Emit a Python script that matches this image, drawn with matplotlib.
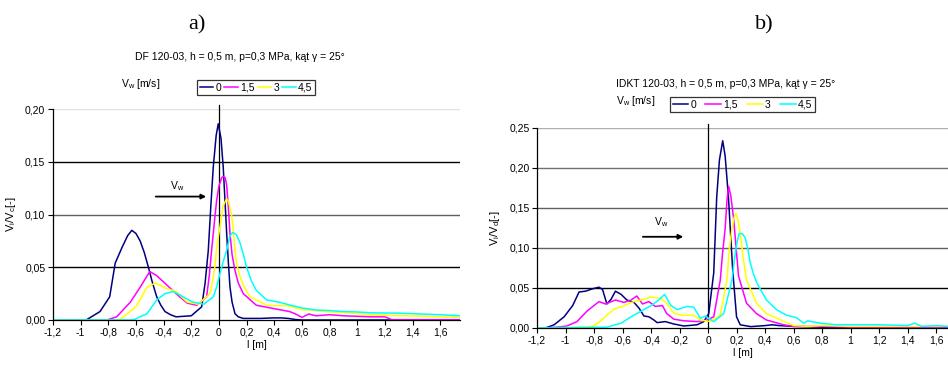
import matplotlib
matplotlib.use("Agg")
import matplotlib.pyplot as plt

plt.rcParams['font.family'] = ['Liberation Sans', 'DejaVu Sans']
plt.rcParams['mathtext.fontset'] = 'custom'
plt.rcParams['mathtext.rm'] = 'Liberation Sans'
plt.rcParams['mathtext.it'] = 'Liberation Sans'

series_labels = ['0', '1,5', '3', '4,5']
colors = ['#000080', '#ff00ff', '#ffff00', '#00ffff']

# ---- a) DF 120-03
a_x0 = [-1.2, -0.96, -0.86, -0.79, -0.75, -0.70, -0.66, -0.63, -0.60, -0.57, -0.54, -0.51, -0.48,
        -0.45, -0.42, -0.39, -0.35, -0.31, -0.20, -0.125, -0.10, -0.077, -0.06, -0.041, -0.02, -0.005,
        0.015, 0.031, 0.045, 0.056, 0.068, 0.08, 0.095, 0.116, 0.14, 0.176, 0.3, 0.4, 0.45, 0.5, 0.55,
        0.6, 1.0, 1.75]
a_y0 = [0, 0, 0.008, 0.022, 0.054, 0.069, 0.080, 0.085, 0.082, 0.075, 0.064, 0.050, 0.035,
        0.022, 0.014, 0.008, 0.005, 0.003, 0.004, 0.0125, 0.035, 0.066, 0.105, 0.145, 0.175, 0.186,
        0.172, 0.145, 0.11, 0.082, 0.055, 0.031, 0.017, 0.006, 0.003, 0.0015, 0.0015, 0.002, 0.002,
        0.0015, 0.0005, 0, 0, 0]
a_x1 = [-1.2, -0.81, -0.74, -0.64, -0.57, -0.50, -0.45, -0.40, -0.31, -0.23, -0.16, -0.089, -0.07,
        -0.053, -0.035, -0.017, 0.0, 0.02, 0.031, 0.045, 0.056, 0.068, 0.08, 0.095, 0.116, 0.14, 0.176,
        0.27, 0.39, 0.51, 0.55, 0.6, 0.65, 0.7, 0.8, 0.9, 1.0, 1.1, 1.2, 1.25, 1.75]
a_y1 = [0, 0, 0.003, 0.017, 0.031, 0.046, 0.042, 0.036, 0.025, 0.016, 0.014, 0.022, 0.042,
        0.066, 0.09, 0.113, 0.127, 0.135, 0.136, 0.135, 0.128, 0.107, 0.082, 0.062, 0.047, 0.035, 0.025,
        0.014, 0.011, 0.008, 0.006, 0.0025, 0.0057, 0.004, 0.005, 0.004, 0.0035, 0.003, 0.003, 0.0003,
        0.0003]
a_x2 = [-1.2, -0.72, -0.60, -0.52, -0.46, -0.38, -0.31, -0.23, -0.15, -0.065, -0.045, -0.03, -0.015,
        0.007, 0.03, 0.056, 0.07, 0.092, 0.105, 0.116, 0.13, 0.152, 0.18, 0.224, 0.345, 0.4, 0.5, 0.6,
        0.7, 0.8, 0.9, 1.0, 1.1, 1.2, 1.4, 1.6, 1.75]
a_y2 = [0, 0, 0.0125, 0.031, 0.035, 0.030, 0.027, 0.017, 0.015, 0.025, 0.037, 0.05, 0.07,
        0.088, 0.108, 0.115, 0.112, 0.099, 0.083, 0.066, 0.052, 0.041, 0.032, 0.022, 0.014, 0.0136,
        0.0136, 0.0098, 0.009, 0.0076, 0.007, 0.006, 0.005, 0.0044, 0.0038, 0.003, 0.0025]
a_x3 = [-1.2, -0.62, -0.52, -0.45, -0.39, -0.33, -0.26, -0.19, -0.11, -0.04, -0.015, 0.007, 0.03,
        0.056, 0.08, 0.10, 0.125, 0.15, 0.175, 0.20, 0.235, 0.27, 0.345, 0.44, 0.5, 0.6, 0.7, 0.8, 0.9,
        1.0, 1.1, 1.2, 1.3, 1.4, 1.5, 1.6, 1.75]
a_y3 = [0, 0, 0.006, 0.019, 0.025, 0.027, 0.022, 0.017, 0.015, 0.022, 0.032, 0.044, 0.055,
        0.066, 0.08, 0.083, 0.081, 0.074, 0.063, 0.050, 0.037, 0.028, 0.019, 0.0168, 0.0146, 0.0114,
        0.0095, 0.0089, 0.008, 0.0076, 0.0068, 0.0066, 0.0065, 0.006, 0.0055, 0.005, 0.004]

# ---- b) IDKT 120-03
b_x0 = [-1.2, -1.14, -1.08, -1.01, -0.95, -0.905, -0.86, -0.81, -0.765, -0.74, -0.71, -0.68, -0.65,
        -0.61, -0.57, -0.52, -0.485, -0.45, -0.415, -0.38, -0.357, -0.30, -0.24, -0.17, -0.077, -0.03,
        0.005, 0.04, 0.061, 0.08, 0.103, 0.12, 0.143, 0.173, 0.20, 0.226, 0.30, 0.4, 0.45, 0.5, 0.6,
        0.8, 1.2, 1.68]
b_y0 = [0, 0, 0.004, 0.014, 0.028, 0.045, 0.046, 0.049, 0.051, 0.048, 0.030, 0.036, 0.046,
        0.042, 0.035, 0.032, 0.025, 0.015, 0.014, 0.010, 0.0067, 0.008, 0.005, 0.0025, 0.004, 0.008,
        0.018, 0.069, 0.164, 0.21, 0.234, 0.215, 0.164, 0.0725, 0.014, 0.004, 0.0017, 0.003, 0.004,
        0.003, 0.002, 0.001, 0.001, 0.001]
b_x1 = [-1.2, -1.06, -0.99, -0.92, -0.85, -0.765, -0.72, -0.65, -0.59, -0.54, -0.50, -0.46, -0.415,
        -0.37, -0.32, -0.29, -0.24, -0.17, -0.077, -0.007, 0.04, 0.086, 0.10, 0.12, 0.133, 0.145, 0.16,
        0.18, 0.214, 0.27, 0.34, 0.41, 0.53, 0.6, 0.8, 1.0, 1.2, 1.68]
b_y1 = [0, 0.001, 0.0025, 0.008, 0.021, 0.033, 0.030, 0.035, 0.032, 0.035, 0.040, 0.030, 0.033,
        0.027, 0.028, 0.018, 0.011, 0.009, 0.008, 0.010, 0.014, 0.060, 0.09, 0.124, 0.16, 0.177, 0.165,
        0.136, 0.065, 0.031, 0.018, 0.010, 0.004, 0.002, 0.002, 0.001, 0.001, 0.001]
b_x2 = [-1.2, -0.87, -0.81, -0.765, -0.71, -0.66, -0.60, -0.54, -0.47, -0.40, -0.33, -0.29, -0.24,
        -0.18, -0.10, -0.054, 0.016, 0.086, 0.133, 0.15, 0.168, 0.183, 0.196, 0.21, 0.226, 0.245, 0.27,
        0.34, 0.41, 0.51, 0.60, 0.7, 0.8, 1.0, 1.2, 1.68]
b_y2 = [0, 0.001, 0.002, 0.007, 0.016, 0.0235, 0.027, 0.032, 0.035, 0.0387, 0.037, 0.031, 0.0185,
        0.016, 0.016, 0.010, 0.008, 0.016, 0.060, 0.10, 0.124, 0.138, 0.143, 0.135, 0.119, 0.09, 0.060,
        0.031, 0.018, 0.010, 0.003, 0.002, 0.003, 0.002, 0.002, 0.002]
b_x3 = [-1.2, -0.71, -0.61, -0.54, -0.47, -0.40, -0.345, -0.305, -0.26, -0.217, -0.147, -0.10, -0.054,
        -0.019, 0.04, 0.11, 0.168, 0.185, 0.203, 0.219, 0.24, 0.26, 0.28, 0.296, 0.32, 0.343, 0.41, 0.48,
        0.55, 0.62, 0.67, 0.70, 0.785, 0.9, 1.0, 1.2, 1.4, 1.45, 1.5, 1.6, 1.68]
b_y3 = [0, 0.001, 0.006, 0.014, 0.021, 0.028, 0.035, 0.042, 0.028, 0.023, 0.027, 0.026, 0.012,
        0.015, 0.008, 0.018, 0.060, 0.085, 0.107, 0.118, 0.118, 0.113, 0.098, 0.0815, 0.067, 0.056,
        0.035, 0.023, 0.016, 0.013, 0.006, 0.009, 0.006, 0.004, 0.004, 0.004, 0.003, 0.006, 0.002,
        0.003, 0.002]

x_ticks = [-1.2, -1, -0.8, -0.6, -0.4, -0.2, 0, 0.2, 0.4, 0.6, 0.8, 1, 1.2, 1.4, 1.6]
x_ticklabels = ['-1,2', '-1', '-0,8', '-0,6', '-0,4', '-0,2', '0', '0,2', '0,4', '0,6', '0,8',
                '1', '1,2', '1,4', '1,6']
a_yticks = [0, 0.05, 0.10, 0.15, 0.20]
b_yticks = [0, 0.05, 0.10, 0.15, 0.20, 0.25]
a_gridcol = ['none', 'black', '#606060', 'black', '#e0e0e0']
b_gridcol = ['none', 'black', '#606060', '#606060', '#707070', '#b0b0b0']

fs = 7.5
fig = plt.figure(figsize=(9.48, 3.65), dpi=100)
axA = fig.add_axes([0.0559, 0.1233, 0.4293, 0.578])
axB = fig.add_axes([0.5665, 0.1014, 0.4335, 0.548])


def style(ax, yticks, gridcol, xmax, ylab, vtop):
    ax.set_xlim(-1.2, xmax)
    ax.set_ylim(0, yticks[-1])
    for t, c in zip(yticks, gridcol):
        if c != 'none':
            ax.axhline(t, color=c, lw=1.0, zorder=0)
    ax.axvline(0, ymin=0, ymax=vtop, color='black', lw=0.9, clip_on=False, zorder=1)
    ax.set_xticks(x_ticks)
    ax.set_xticklabels(x_ticklabels, fontsize=fs)
    ax.set_yticks(yticks)
    ax.yaxis.set_major_formatter(plt.FuncFormatter(lambda v, p: ('%.2f' % v).replace('.', ',')))
    for s in ['top', 'right']:
        ax.spines[s].set_visible(False)
    for s in ['left', 'bottom']:
        ax.spines[s].set_linewidth(0.9)
    ax.tick_params(direction='out', length=3.5, width=0.8, pad=2, labelsize=fs)
    ax.set_xlabel('l [m]', fontsize=fs, labelpad=2)
    ax.set_ylabel(ylab, fontsize=8, labelpad=5)


style(axA, a_yticks, a_gridcol, 1.743, r'V$_\mathrm{i}$/V$_\mathrm{c}$[-]', 1.019)
style(axB, b_yticks, b_gridcol, 1.684, r'V$_\mathrm{i}$/V$_\mathrm{d}$[-]', 1.02)

for ax, xs, ys in [(axA, [a_x0, a_x1, a_x2, a_x3], [a_y0, a_y1, a_y2, a_y3]),
                   (axB, [b_x0, b_x1, b_x2, b_x3], [b_y0, b_y1, b_y2, b_y3])]:
    for x, y, c, lab in zip(xs, ys, colors, series_labels):
        ax.plot(x, y, color=c, lw=1.1, label=lab, zorder=2, solid_joinstyle='round')

# arrows for wind direction
axA.annotate('', xy=(-0.072, 0.117), xytext=(-0.477, 0.117),
             arrowprops=dict(arrowstyle='-|>', color='black', lw=1.3, mutation_scale=7))
axA.text(-0.30, 0.127, r'V$_\mathrm{w}$', fontsize=fs, ha='center', va='center')
axB.annotate('', xy=(-0.154, 0.114), xytext=(-0.477, 0.114),
             arrowprops=dict(arrowstyle='-|>', color='black', lw=1.3, mutation_scale=7))
axB.text(-0.33, 0.1325, r'V$_\mathrm{w}$', fontsize=fs, ha='center', va='center')

leg_kw = dict(ncol=4, fontsize=fs, frameon=True, fancybox=False, handletextpad=0.2,
              borderpad=0.25, borderaxespad=0)
legA = axA.legend(loc='upper left', bbox_to_anchor=(0.208, 0.781),
                  bbox_transform=fig.transFigure, handlelength=1.3, columnspacing=0.3, **leg_kw)
legB = axB.legend(loc='upper left', bbox_to_anchor=(0.7068, 0.734),
                  bbox_transform=fig.transFigure, handlelength=1.5, columnspacing=0.9, **leg_kw)
for leg in (legA, legB):
    leg.get_frame().set_edgecolor('black')
    leg.get_frame().set_linewidth(0.9)

# titles
fig.text(0.208, 0.932, 'a)', fontsize=16, family='Liberation Serif', ha='center', va='center')
fig.text(0.806, 0.932, 'b)', fontsize=16, family='Liberation Serif', ha='center', va='center')
fig.text(0.253, 0.844, 'DF 120-03, h = 0,5 m, p=0,3 MPa, kąt γ = 25°', fontsize=fs,
         ha='center', va='center')
fig.text(0.650, 0.770, 'IDKT 120-03, h = 0,5 m, p=0,3 MPa, kąt γ = 25°', fontsize=fs,
         ha='left', va='center')
fig.text(0.148, 0.770, r'V$_\mathrm{w}$ [m/s]', fontsize=fs, ha='center', va='center')
fig.text(0.650, 0.723, r'V$_\mathrm{w}$ [m/s]', fontsize=fs, ha='left', va='center')

fig.savefig('out.png', dpi=100)
